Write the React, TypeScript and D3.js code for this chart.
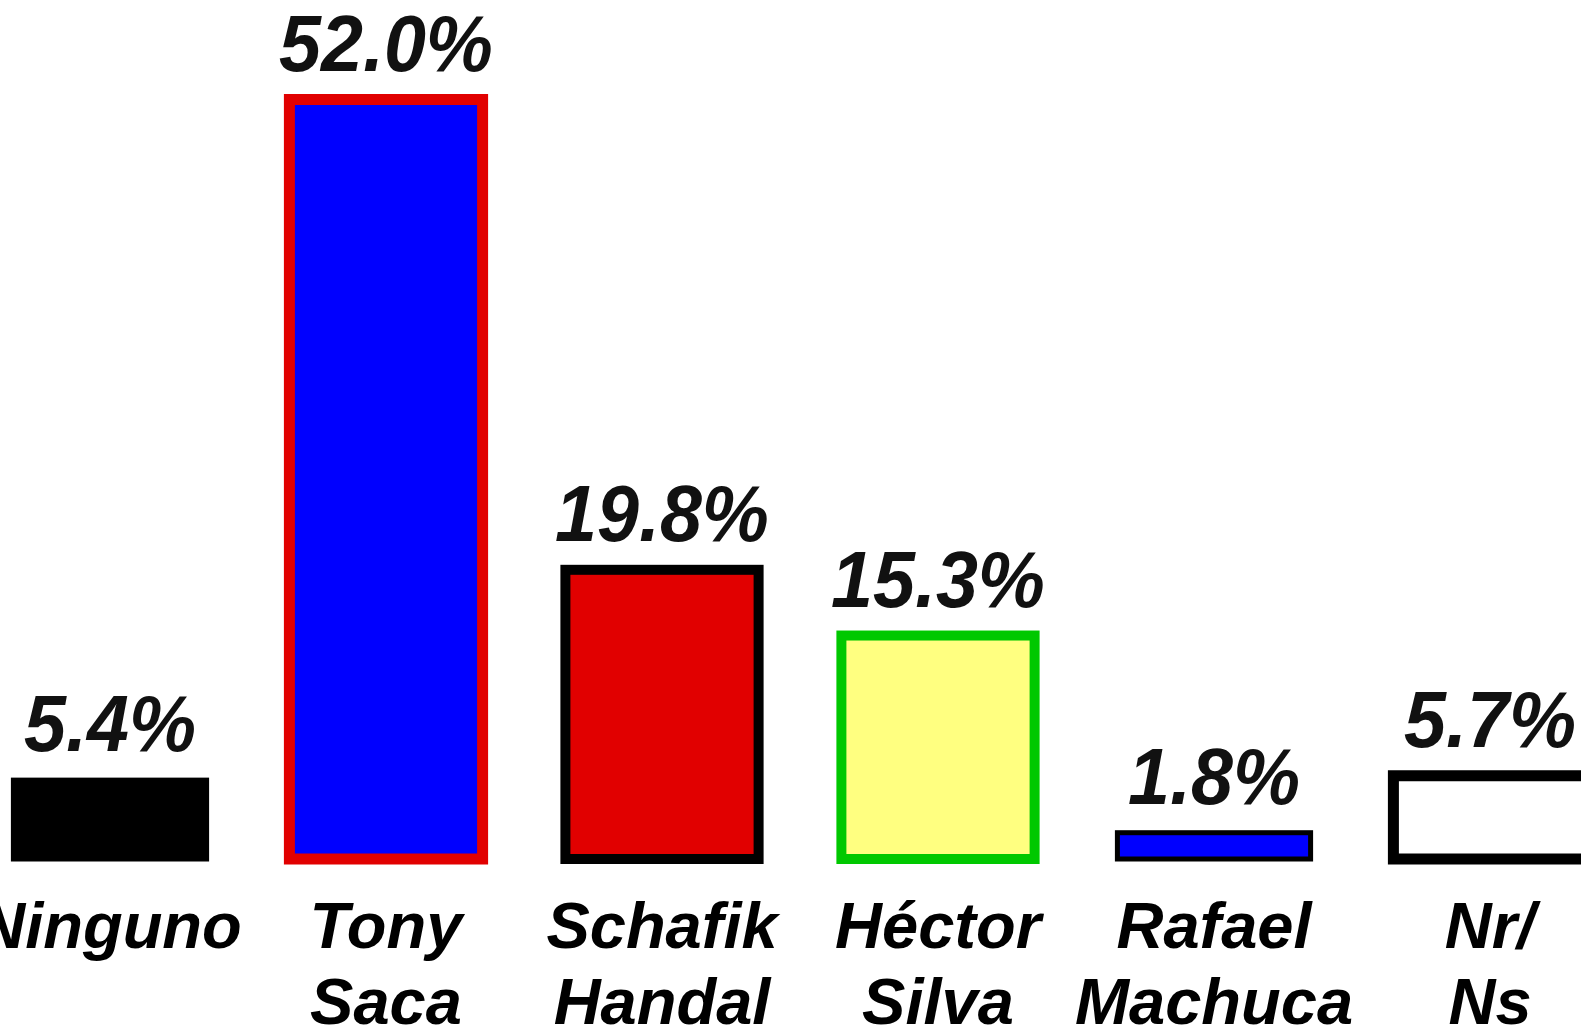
import React, { useRef, useEffect } from 'react';
import { select, scaleBand, scaleLinear } from 'd3';

const categories = ['Ninguno', 'Tony Saca', 'Schafik Handal', 'Héctor Silva', 'Rafael Machuca', 'Nr/ Ns'];
const values = [5.4, 52.0, 19.8, 15.3, 1.8, 5.7];
const valueLabels = ['5.4%', '52.0%', '19.8%', '15.3%', '1.8%', '5.7%'];

// bar styles, same order as categories
const fills = ['#000000', '#0000ff', '#e10000', '#ffff80', '#0000ff', '#ffffff'];
const strokes = ['#000000', '#e10000', '#000000', '#00c800', '#000000', '#000000'];
const strokeWidths = [5, 11, 10, 10, 5, 11];

const WIDTH = 1581;
const HEIGHT = 1025;
const FONT = "'Liberation Sans', Arial, Helvetica, sans-serif";

const App = () => {
  const svgRef = useRef<SVGSVGElement>(null);

  useEffect(() => {
    const svg = select(svgRef.current);

    const xScale = scaleBand<string>()
      .domain(categories)
      .range([-28, 1628])
      .paddingInner(0.3)
      .paddingOuter(0.15);

    const yScale = scaleLinear()
      .domain([0, 52])
      .range([859, 99.5]);

    const rows = categories.map((c, i) => ({ c, v: values[i], i }));

    svg
      .select('.bars')
      .selectAll('rect')
      .data(rows)
      .join('rect')
      .attr('x', d => xScale(d.c)!)
      .attr('y', d => yScale(d.v))
      .attr('width', xScale.bandwidth())
      .attr('height', d => yScale(0) - yScale(d.v))
      .attr('fill', d => fills[d.i])
      .attr('stroke', d => strokes[d.i])
      .attr('stroke-width', d => strokeWidths[d.i]);

    // value labels above bars, slightly condensed
    svg
      .select('.values')
      .selectAll('text')
      .data(rows)
      .join('text')
      .attr('transform', d => `translate(${xScale(d.c)! + xScale.bandwidth() / 2},${yScale(d.v) - 29}) scale(0.955,1)`)
      .attr('text-anchor', 'middle')
      .attr('font-family', FONT)
      .attr('font-weight', 'bold')
      .attr('font-style', 'italic')
      .attr('font-size', 79)
      .attr('fill', '#111111')
      .text(d => valueLabels[d.i]);

    // category names under the baseline, one word per line
    const cats = svg
      .select('.cats')
      .selectAll('text')
      .data(rows)
      .join('text')
      .attr('x', d => xScale(d.c)! + xScale.bandwidth() / 2)
      .attr('y', 948)
      .attr('text-anchor', 'middle')
      .attr('font-family', FONT)
      .attr('font-weight', 'bold')
      .attr('font-style', 'italic')
      .attr('font-size', 65)
      .attr('fill', '#000000');

    cats
      .selectAll('tspan')
      .data(d => d.c.split(' ').map(w => ({ w, x: xScale(d.c)! + xScale.bandwidth() / 2 })))
      .join('tspan')
      .attr('x', d => d.x)
      .attr('dy', (d, j) => (j === 0 ? 0 : 76))
      .text(d => d.w);
  }, []);

  return (
    <div style={{ position: 'absolute', left: 0, top: 0, width: WIDTH, height: HEIGHT, overflow: 'hidden', background: '#fff' }}>
      <svg ref={svgRef} width={WIDTH} height={HEIGHT} style={{ display: 'block' }}>
        <g className="bars" />
        <g className="values" />
        <g className="cats" />
      </svg>
    </div>
  );
};

export default App;
